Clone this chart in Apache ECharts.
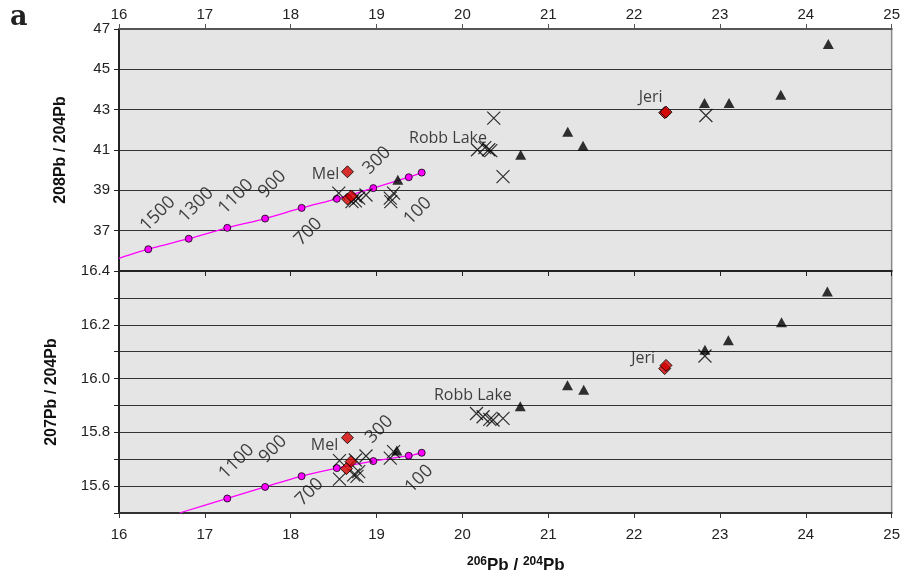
<!DOCTYPE html>
<html><head><meta charset="utf-8">
<script src="https://cdn.jsdelivr.net/npm/echarts@6/dist/echarts.min.js"></script>
<style>html,body{margin:0;padding:0;background:#fff}#c{width:903px;height:586px}</style>
</head><body><div id="c"></div>
<script>
// ---- data ----
const xTicks = [16,17,18,19,20,21,22,23,24,25];

// growth curve (ages 1500..0 Ma)
const curveAges = ['1500','1300','1100','900','700','500','300','100','0'];
const curveX = [16.341,16.812,17.261,17.702,18.127,18.537,18.962,19.375,19.526];
const curveY208 = [36.08,36.60,37.14,37.60,38.13,38.58,39.11,39.65,39.88];
const curveStart208 = [16.0,35.63];
const curveX207 = [17.261,17.702,18.127,18.537,18.962,19.375,19.526];
const curveY207 = [15.554,15.597,15.637,15.667,15.693,15.713,15.724];
const curveStart207 = [16.704,15.5];

// triangles
const triX208 = [24.262,23.709,22.820,23.106,21.227,21.405,20.679,19.248];
const triY208 = [46.26,43.74,43.33,43.33,41.90,41.21,40.76,39.52];
const triX207 = [24.251,23.717,23.098,22.825,21.224,21.413,20.674,19.236];
const triY207 = [16.324,16.209,16.142,16.107,15.975,15.958,15.897,15.732];

// crosses
const crossX208 = [20.365,22.836,20.473,20.175,20.261,20.307,20.331,18.560,18.761,18.753,18.792,18.877,19.160,19.198,19.166,18.714];
const crossY208 = [42.58,42.71,39.68,41.01,41.12,41.01,40.97,38.86,38.69,38.48,38.61,38.77,38.61,38.86,38.44,38.44];
const crossX207 = [18.568,18.568,18.753,18.877,19.160,19.198,18.734,18.792,18.772,20.164,20.241,20.319,20.357,20.473,22.825];
const crossY207 = [15.695,15.626,15.697,15.712,15.704,15.728,15.642,15.654,15.636,15.870,15.858,15.848,15.846,15.852,16.084];

// red diamonds (Mel, Jeri)
const diaX208 = [18.661,18.661,18.707,22.356,22.372];
const diaY208 = [39.92,38.57,38.72,42.85,42.88];
const diaX207 = [18.661,18.702,18.649,22.356,22.372];
const diaY207 = [15.780,15.691,15.665,16.037,16.049];

// text annotations (anchor points in data units)
const ageLabelText208 = ['1500','1300','1100','900','700','300','100'];
const ageLabelX208 = [16.452,16.898,17.362,17.786,18.204,19.004,19.479];
const ageLabelY208 = [37.83,38.28,38.69,39.30,36.95,40.48,37.98];
const ageLabelText207 = ['1100','900','700','300','100'];
const ageLabelX207 = [17.369,17.794,18.220,19.032,19.496];
const ageLabelY207 = [15.691,15.737,15.578,15.811,15.627];
const siteText = ['Mel','Robb Lake','Jeri'];
const siteX208 = [18.405,19.832,22.193];
const siteY208 = [39.77,41.59,43.61];
const siteX207 = [18.394,20.122,22.105];
const siteY207 = [15.753,15.936,16.076];

// ---- build ----
const zip = (xs, ys) => xs.map((x,i)=>[x,ys[i]]);
const tickFont = {fontFamily:'Liberation Sans, Arial, sans-serif', fontSize:15, color:'#222'};
const crossPath = 'path://M0,0L10,10M10,0L0,10';

function curveData(start, xs, ys){
  return [{value:start, symbol:'none'}].concat(zip(xs,ys));
}
function textSeries(xi, yi, texts, xs, ys, rot, size){
  return {type:'scatter', xAxisIndex:xi, yAxisIndex:yi, symbolSize:0, silent:true, z:5,
    itemStyle:{color:'rgba(0,0,0,0)'},
    data: texts.map((t,i)=>({name:t, value:[xs[i],ys[i]]})),
    label:{show:true, position:'inside', rotate:rot, formatter:p=>p.name,
      fontFamily:'Open Sans, sans-serif', fontSize:size, color:'#111', textBorderWidth:0, textShadowBlur:0}};
}

const chart = echarts.init(document.getElementById('c'), null, {renderer:'canvas'});
const gridCommon = {left:119, right:8, show:true, backgroundColor:'#e5e5e5', borderColor:'#8a8a8a', borderWidth:1.5};
chart.setOption({
  animation:false,
  grid:[
    {...gridCommon, top:29, height:242},
    {...gridCommon, top:271, height:242}
  ],
  xAxis:[
    {gridIndex:0, type:'value', position:'top', min:16, max:25, interval:1,
     axisLine:{show:true, lineStyle:{color:'#555', width:2}},
     axisTick:{show:true, inside:false, length:5, lineStyle:{color:'#555'}},
     axisLabel:{...tickFont, margin:7}, splitLine:{show:false}},
    {gridIndex:1, type:'value', position:'bottom', min:16, max:25, interval:1,
     axisLine:{show:true, onZero:false, lineStyle:{color:'#333', width:2}},
     axisTick:{show:true, inside:false, length:5, lineStyle:{color:'#333'}},
     axisLabel:{...tickFont, margin:14}, splitLine:{show:false}},
    {gridIndex:1, type:'value', position:'top', min:16, max:25, interval:1,
     axisLine:{show:true, onZero:false, lineStyle:{color:'#222', width:2}},
     axisTick:{show:true, inside:true, length:5, lineStyle:{color:'#222'}},
     axisLabel:{show:false}, splitLine:{show:false}}
  ],
  yAxis:[
    {gridIndex:0, type:'value', min:35, max:47, interval:2,
     name:'208Pb / 204Pb', nameLocation:'middle', nameGap:50, nameRotate:90,
     nameTextStyle:{fontFamily:'Liberation Sans, Arial, sans-serif', fontSize:16, fontWeight:'bold', color:'#111'},
     axisLine:{show:true, onZero:false, lineStyle:{color:'#222', width:2}},
     axisTick:{show:true, length:5, lineStyle:{color:'#222'}},
     axisLabel:{...tickFont, margin:9, formatter:v=> v===35 ? '' : String(v)},
     splitLine:{show:true, lineStyle:{color:'#333', width:1.2}}},
    {gridIndex:1, type:'value', min:15.5, max:16.4, interval:0.1,
     name:'207Pb / 204Pb', nameLocation:'middle', nameGap:59, nameRotate:90,
     nameTextStyle:{fontFamily:'Liberation Sans, Arial, sans-serif', fontSize:16, fontWeight:'bold', color:'#111'},
     axisLine:{show:true, onZero:false, lineStyle:{color:'#222', width:2}},
     axisTick:{show:true, length:5, lineStyle:{color:'#222'}},
     axisLabel:{...tickFont, margin:9, formatter:v=>{const k=Math.round(v*10); return (k%2===0)? (k/10).toFixed(1) : '';}},
     splitLine:{show:true, lineStyle:{color:'#333', width:1.2}}}
  ],
  graphic:[
    {type:'text', left:10, top:4, style:{text:'a', font:'bold 27px "DejaVu Serif", serif', fill:'#222'}},
    {type:'text', left:467, top:556, style:{
      rich:{sup:{fontFamily:'Liberation Sans, Arial, sans-serif', fontSize:12, fontWeight:'bold', fill:'#111', verticalAlign:'top', padding:[0,0,6,0]},
            n:{fontFamily:'Liberation Sans, Arial, sans-serif', fontSize:17, fontWeight:'bold', fill:'#111'}},
      text:'{sup|206}{n|Pb / }{sup|204}{n|Pb}'}}
  ],
  series:[
    {type:'line', xAxisIndex:0, yAxisIndex:0, data:curveData(curveStart208, curveX, curveY208),
     smooth:0.2, symbol:'circle', symbolSize:7, showAllSymbol:true,
     lineStyle:{color:'#ff00ff', width:1.3}, itemStyle:{color:'#ff00ff', borderColor:'#000', borderWidth:0.8}, z:2},
    {type:'line', xAxisIndex:1, yAxisIndex:1, data:curveData(curveStart207, curveX207, curveY207),
     smooth:0.2, symbol:'circle', symbolSize:7, showAllSymbol:true,
     lineStyle:{color:'#ff00ff', width:1.3}, itemStyle:{color:'#ff00ff', borderColor:'#000', borderWidth:0.8}, z:2},
    {type:'scatter', xAxisIndex:0, yAxisIndex:0, data:zip(crossX208,crossY208), symbol:crossPath, symbolSize:13,
     itemStyle:{color:'rgba(0,0,0,0)', borderColor:'#000', borderWidth:1.2}, z:3},
    {type:'scatter', xAxisIndex:1, yAxisIndex:1, data:zip(crossX207,crossY207), symbol:crossPath, symbolSize:13,
     itemStyle:{color:'rgba(0,0,0,0)', borderColor:'#000', borderWidth:1.2}, z:3},
    {type:'scatter', xAxisIndex:0, yAxisIndex:0, data:zip(triX208,triY208), symbol:'triangle', symbolSize:[11,10],
     itemStyle:{color:'#000'}, z:4},
    {type:'scatter', xAxisIndex:1, yAxisIndex:1, data:zip(triX207,triY207), symbol:'triangle', symbolSize:[11,10],
     itemStyle:{color:'#000'}, z:4},
    {type:'scatter', xAxisIndex:0, yAxisIndex:0, data:zip(diaX208,diaY208), symbol:'diamond', symbolSize:[12,12],
     itemStyle:{color:'#d40000', borderColor:'#000', borderWidth:1}, z:5},
    {type:'scatter', xAxisIndex:1, yAxisIndex:1, data:zip(diaX207,diaY207), symbol:'diamond', symbolSize:[12,12],
     itemStyle:{color:'#d40000', borderColor:'#000', borderWidth:1}, z:5},
    textSeries(0,0,ageLabelText208,ageLabelX208,ageLabelY208,45,18),
    textSeries(1,1,ageLabelText207,ageLabelX207,ageLabelY207,45,18),
    textSeries(0,0,siteText,siteX208,siteY208,0,16),
    textSeries(1,1,siteText,siteX207,siteY207,0,16)
  ]
});
</script></body></html>
